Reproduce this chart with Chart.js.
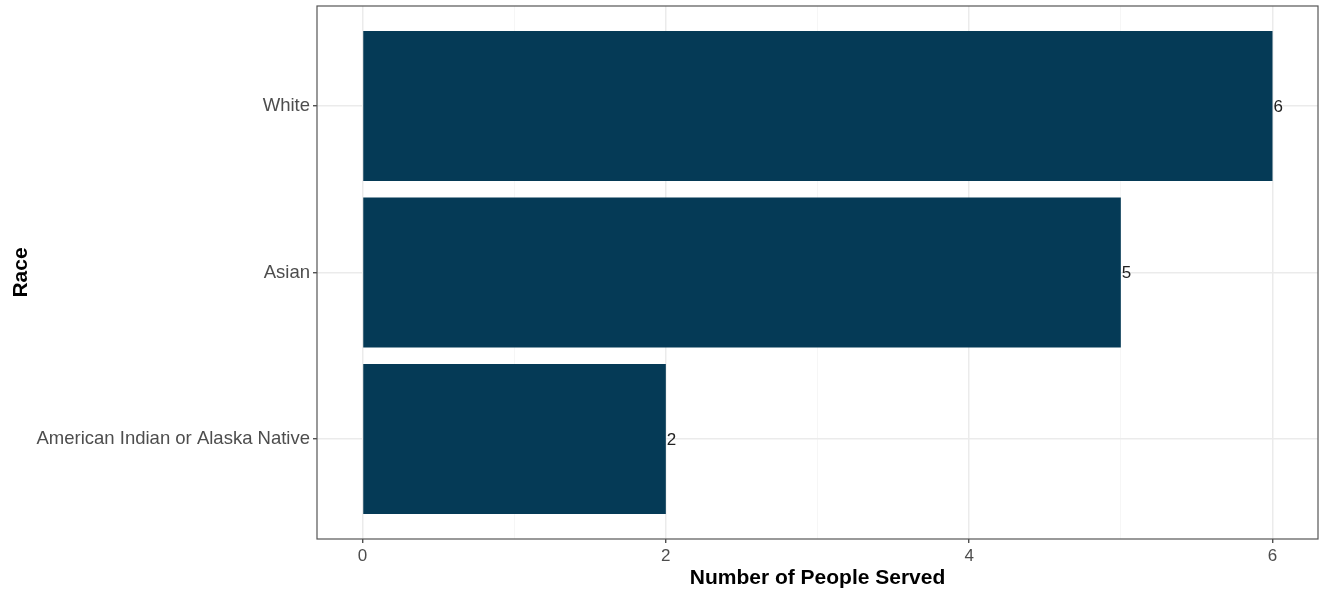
<!DOCTYPE html>
<html>
<head>
<meta charset="utf-8">
<script src="https://cdn.jsdelivr.net/npm/chart.js@4"></script>
<style>
  html, body { margin: 0; padding: 0; background: #fff; }
  #wrap { width: 1328px; height: 594px; }
</style>
</head>
<body>
<div id="wrap"><canvas id="raceChart" width="1328" height="594"></canvas></div>
<script>
const races = ['American Indian or Alaska Native', 'Asian', 'White'];
const served = [2, 5, 6];
const xTicks = [0, 1, 2, 3, 4, 5, 6];

const FONT = "'Liberation Sans', Arial, sans-serif";

// panel border + value labels, ggplot style
const panelAndLabels = {
  id: 'panelAndLabels',
  afterDatasetsDraw(chart) {
    const ctx = chart.ctx;
    const a = chart.chartArea;
    ctx.save();
    ctx.strokeStyle = '#555';
    ctx.lineWidth = 1.2;
    ctx.strokeRect(a.left, a.top, a.right - a.left, a.bottom - a.top);

    ctx.fillStyle = '#222';
    ctx.font = '17px ' + FONT;
    ctx.textAlign = 'left';
    ctx.textBaseline = 'middle';
    chart.getDatasetMeta(0).data.forEach((bar, i) => {
      ctx.fillText(String(served[i]), bar.x + 1, bar.y + 1);
    });
    ctx.restore();
  }
};

new Chart(document.querySelector('#raceChart'), {
  type: 'bar',
  data: {
    datasets: [{
      label: 'Number of People Served',
      data: served.map((v, i) => ({ x: v, y: i + 1 })),
      backgroundColor: '#053a56',
      borderWidth: 0,
      categoryPercentage: 1,
      barPercentage: 0.9
    }]
  },
  options: {
    indexAxis: 'y',
    responsive: false,
    animation: false,
    layout: { padding: { left: 0, top: 6, right: 10, bottom: 0 } },
    plugins: {
      legend: { display: false },
      tooltip: { enabled: false }
    },
    scales: {
      x: {
        type: 'linear',
        min: -0.3,
        max: 6.3,
        afterBuildTicks: s => { s.ticks = xTicks.map(v => ({ value: v })); },
        afterFit: s => { s.height = 55; s.paddingLeft = 0; s.paddingRight = 0; },
        border: { display: false },
        grid: {
          color: c => (c.tick && c.tick.value % 2 === 0) ? '#ebebeb' : '#f4f4f4',
          lineWidth: c => (c.tick && c.tick.value % 2 === 0) ? 1.5 : 0.8,
          tickColor: c => (c.tick && c.tick.value % 2 === 0) ? '#333' : 'rgba(0,0,0,0)',
          tickLength: 4,
          tickWidth: 1.2
        },
        ticks: {
          autoSkip: false,
          maxRotation: 0,
          padding: 3,
          color: '#4d4d4d',
          font: { family: FONT, size: 17 },
          callback: v => (v % 2 === 0 ? v : '')
        },
        title: {
          display: true,
          text: 'Number of People Served',
          color: '#000',
          font: { family: FONT, size: 21, weight: 'bold' },
          padding: { top: 0, bottom: 3 }
        }
      },
      y: {
        type: 'linear',
        min: 0.4,
        max: 3.6,
        offset: false,
        afterBuildTicks: s => { s.ticks = races.map((r, i) => ({ value: i + 1 })); },
        afterFit: s => { s.width = 317; s.paddingTop = 0; s.paddingBottom = 0; },
        border: { display: false },
        grid: {
          offset: false,
          color: '#ebebeb',
          lineWidth: 1.5,
          tickColor: '#333',
          tickLength: 4,
          tickWidth: 1.2
        },
        ticks: {
          autoSkip: false,
          padding: 3,
          color: '#4d4d4d',
          font: { family: FONT, size: 18.5 },
          callback: v => races[v - 1]
        },
        title: {
          display: true,
          text: 'Race',
          color: '#000',
          font: { family: FONT, size: 21, weight: 'bold' },
          padding: { top: 9, bottom: 0 }
        }
      }
    }
  },
  plugins: [panelAndLabels]
});
</script>
</body>
</html>
